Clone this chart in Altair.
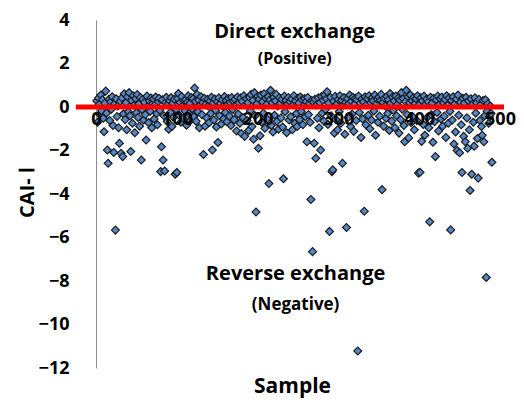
import altair as alt
import pandas as pd

# CAI-I values for samples 1..490
cai = [
    0.28, -0.70, 0.41, 0.12, -0.35, 0.55, -0.18, 0.33, -0.52, -1.14,
    0.18, 0.73, -0.28, -1.98, -2.59, 0.36, -0.62, 0.24, -0.10, 0.47,
    -0.85, -2.09, 0.15, -5.66, 0.38, -0.44, 0.05, -0.95, -1.67, 0.26,
    -2.13, 0.42, -2.28, -0.31, 0.61, -0.58, 0.20, -1.05, 0.48, -0.22,
    0.66, -0.40, -2.05, 0.30, -0.75, 0.52, 0.08, -1.18, 0.39, -0.26,
    0.57, -0.48, 0.14, -0.88, 0.44, -2.44, -0.12, 0.35, -0.60, 0.22,
    -0.35, -1.52, 0.50, 0.03, -0.72, 0.28, -0.20, 0.41, -0.95, 0.16,
    0.37, -0.55, 0.10, 0.46, -0.30, -0.82, 0.25, 0.40, -0.15, -2.97,
    -1.83, 0.33, -2.44, -0.40, -2.94, 0.21, 0.45, -0.66, 0.12, -1.02,
    0.30, -0.25, 0.43, -0.90, 0.18, -0.48, 0.36, -3.09, -0.10, -3.01,
    0.40, 0.62, -0.38, 0.20, -0.70, 0.48, 0.06, -0.52, 0.29, -0.18,
    0.34, -0.84, 0.22, 0.51, -0.30, 0.15, -0.62, 0.44, -0.08, 0.38,
    -0.45, 0.87, 0.26, -0.66, 0.58, -0.22, 0.32, -0.95, 0.10, 0.47,
    -0.35, 0.20, -2.18, 0.40, -0.88, 0.13, -0.50, 0.35, 0.05, -0.72,
    0.28, -0.30, 0.45, -1.98, 0.18, -0.60, 0.37, -0.15, -0.92, 0.24,
    -1.63, 0.42, -0.40, 0.16, -0.78, 0.33, 0.02, -0.55, 0.48, -0.25,
    0.30, -0.68, 0.12, 0.39, -0.42, 0.22, -0.85, 0.44, -0.12, 0.27,
    -0.58, 0.35, 0.08, -1.10, 0.46, -0.32, 0.19, -0.75, 0.41, -1.22,
    0.25, -0.48, 0.52, -1.35, 0.10, 0.38, -0.62, 0.20, -1.08, 0.44,
    -0.18, 0.58, -0.90, 0.30, -1.48, 0.66, -0.40, -4.83, 0.15, 0.49,
    -1.90, 0.36, -1.32, 0.55, -0.70, 0.24, -0.28, 0.61, -0.98, 0.40,
    0.12, -0.55, 0.47, -3.52, 0.32, 0.77, -0.85, 0.20, -1.15, 0.45,
    -0.38, 0.28, 0.58, -0.66, 0.05, -1.02, 0.42, 0.16, -0.50, 0.35,
    -0.92, -3.30, 0.50, -0.22, 0.30, -1.18, 0.14, 0.44, -0.60, 0.24,
    -0.45, 0.37, -1.05, 0.10, 0.52, -0.75, 0.27, -0.30, -0.90, 0.41,
    0.18, -0.58, 0.46, -0.20, 0.33, -0.82, 0.06, 0.39, -0.45, 0.25,
    -1.60, 0.44, -0.35, 0.15, -0.70, -4.25, 0.30, -6.65, 0.22, -1.67,
    0.36, -2.36, 0.10, -0.52, 0.42, -0.95, 0.20, -1.98, 0.48, -0.28,
    0.31, -0.65, 0.55, -0.12, 0.38, 0.70, -0.80, 0.18, -5.72, 0.45,
    -0.40, -2.97, -2.89, 0.26, -1.20, 0.49, -0.58, 0.14, -1.05, 0.35,
    -0.22, 0.52, -0.75, 0.30, -2.59, 0.08, 0.43, -1.25, 0.21, -5.54,
    0.38, -0.48, 0.16, 0.55, -0.90, 0.27, -0.32, 0.45, -1.12, 0.12,
    0.40, -0.62, 0.33, -11.22, 0.50, -0.25, 0.18, -1.40, 0.36, -0.55,
    0.24, -4.79, 0.47, -0.82, 0.11, 0.39, -0.38, 0.52, -1.00, 0.20,
    -0.60, 0.43, 0.28, -0.18, 0.55, -1.30, 0.15, 0.37, -0.70, 0.46,
    -0.42, 0.30, 0.58, -3.80, 0.22, -0.88, 0.40, 0.05, -0.52, 0.48,
    -0.30, 0.34, -1.08, 0.62, 0.18, -0.65, 0.45, -0.15, 0.28, -0.95,
    0.50, -0.40, 0.12, 0.41, -1.20, 0.32, -0.58, 0.66, -0.10, 0.38,
    -0.85, -1.60, 0.25, 0.77, -0.35, 0.48, -1.42, 0.20, 0.55, -0.72,
    0.30, -0.45, 0.44, -1.05, 0.16, 0.39, -0.62, 0.52, -3.04, 0.10,
    -3.00, 0.42, -1.58, 0.27, -0.80, 0.50, -1.30, 0.14, 0.36, -0.48,
    0.24, -0.95, -5.28, 0.45, -0.35, 0.18, -1.62, 0.40, -0.68, -2.28,
    0.33, -0.25, 0.50, -1.10, 0.12, 0.38, -0.55, 0.46, -0.88, 0.20,
    -0.42, 0.35, -1.40, 0.52, 0.08, -0.75, 0.41, -0.20, -5.65, 0.30,
    -0.60, 0.47, -1.70, 0.15, -1.15, 0.36, -2.00, 0.55, -0.38, -2.10,
    0.22, -0.82, -3.01, 0.40, -1.35, 0.18, -1.60, 0.45, -0.50, -1.90,
    0.28, -1.05, -3.84, 0.38, -3.09, 0.12, -0.70, -1.80, 0.42, -0.28,
    0.20, -1.45, -3.27, 0.35, -0.62, 0.10, -0.90, -1.30, 0.30, -1.60,
    -0.40, 0.33, -7.84, -0.20, 0.15, -0.75, -0.45, 0.05, -0.30, -2.54,
]
samples = list(range(1, len(cai) + 1))

y_ticks = [-12, -10, -8, -6, -4, -2, 0, 2, 4]
x_ticks = [0, 100, 200, 300, 400, 500]

zero_x = [-25, 505]
zero_y = [0, 0]

note_text = ["Direct exchange", "(Positive)", "Reverse exchange", "(Negative)"]
note_x = [246, 246, 247, 247]
note_y = [3.43, 2.19, -7.68, -9.10]
note_size = [20, 16, 20, 17]

FONT = "Open Sans"

pts = pd.DataFrame({"Sample": samples, "CAI": cai})
zero = pd.DataFrame({"x": zero_x, "y": zero_y})
notes = pd.DataFrame({"t": note_text, "x": note_x, "y": note_y, "s": note_size})

xscale = alt.Scale(domain=[0, 500], nice=False, zero=False)
yscale = alt.Scale(domain=[-12, 4], nice=False, zero=False)

points = alt.Chart(pts).mark_point(
    shape="diamond", filled=True, size=62, fill="#5588C8",
    stroke="#1a1a1a", strokeWidth=1.2, opacity=1
).encode(
    x=alt.X("Sample:Q", scale=xscale, axis=alt.Axis(
        values=x_ticks, title="Sample", offset=-262, domain=False, ticks=False,
        grid=False, labelPadding=4, labelFont=FONT, labelFontSize=18,
        labelFontWeight="bold", labelColor="black", zindex=1, labelFlush=False,
        titleFont=FONT, titleFontSize=21, titleFontWeight="bold",
        titleColor="black", titleX=196, titleY=286, titleBaseline="alphabetic",
        labelOverlap=False)),
    y=alt.Y("CAI:Q", scale=yscale, axis=alt.Axis(
        values=y_ticks, title="CAI- Ⅰ", domain=True, domainColor="#8c8c8c",
        domainWidth=1, ticks=False, tickSize=0, grid=False, labelPadding=27,
        labelFont=FONT, labelFontSize=18, labelFontWeight="bold", labelFlush=False,
        labelColor="black", titleFont=FONT, titleFontSize=20,
        titleFontWeight="bold", titleColor="black", titleX=-63, titleY=172,
        titleBaseline="alphabetic", labelOverlap=False)),
)

line = alt.Chart(zero).mark_line(color="#ff0000", strokeWidth=5, clip=False).encode(
    x=alt.X("x:Q", scale=xscale),
    y=alt.Y("y:Q", scale=yscale),
)

texts = alt.Chart(notes).mark_text(
    font=FONT, fontWeight="bold", color="black", align="center", baseline="middle"
).encode(
    x=alt.X("x:Q", scale=xscale),
    y=alt.Y("y:Q", scale=yscale),
    text="t:N",
    size=alt.Size("s:Q", scale=None, legend=None),
)

chart = alt.layer(points, line, texts).properties(
    width=404, height=348,
    autosize=alt.AutoSizeParams(type="none"),
    padding={"left": 88, "top": 12, "right": 16, "bottom": 30},
).configure_view(stroke=None)

chart.save("out.html", embed_options={"renderer": "svg", "actions": False})
